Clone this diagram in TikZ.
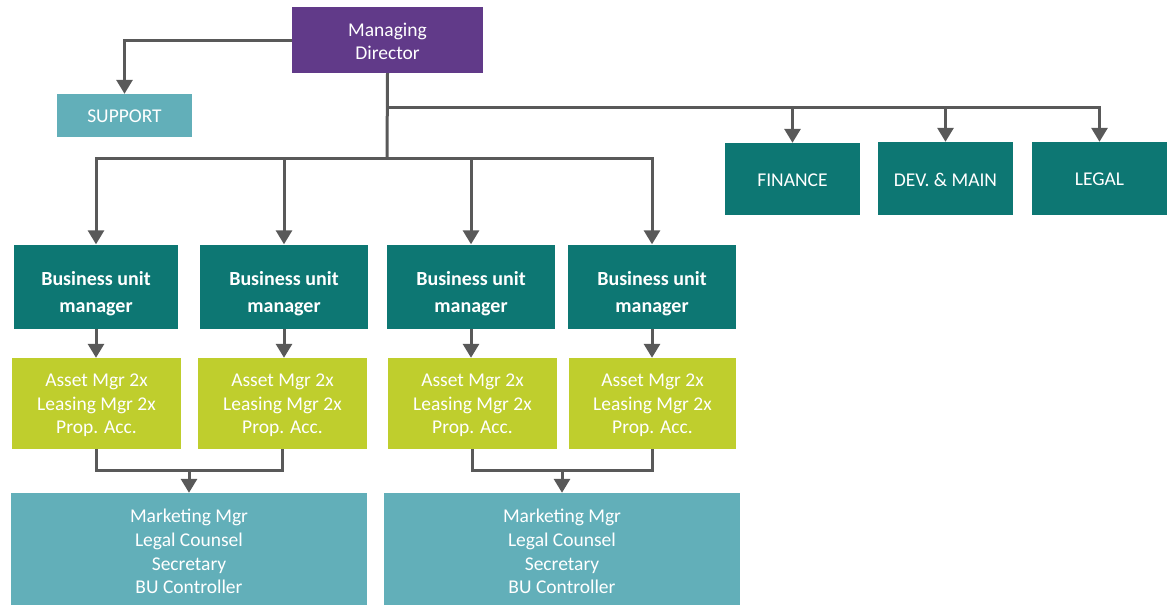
\documentclass[tikz,border=0pt]{standalone}
\usepackage{fontspec}
\setmainfont{Carlito}
\usetikzlibrary{arrows.meta,calc}
\definecolor{mdpurple}{HTML}{613A89}
\definecolor{darkteal}{HTML}{0D7773}
\definecolor{lightteal}{HTML}{62AFB9}
\definecolor{lime}{HTML}{BFCE2D}
\definecolor{linegray}{HTML}{595959}
\tikzset{
  box/.style={draw=none, inner sep=0pt},
  lbl/.style={align=center, text=white, inner sep=0pt,
    font=\fontsize{19.5}{23.7}\selectfont},
  blbl/.style={lbl, font=\fontsize{20}{27}\selectfont\bfseries},
  conn/.style={draw=linegray, line width=3pt},
  arr/.style={conn, -{Triangle[width=16pt,length=14pt]}},
}
\begin{document}
\begin{tikzpicture}[x=1pt,y=-1pt]
\useasboundingbox (0,0) rectangle (1171,605);
% top
\node[box, fill=mdpurple, minimum width=191pt, minimum height=66pt,
  label={[lbl, yshift=-1.5pt]center:{Managing\\Director}}] (md) at (387.5,40) {};
\node[box, fill=lightteal, minimum width=135pt, minimum height=43pt,
  label={[lbl, yshift=-1pt]center:SUPPORT}] (sup) at (124.5,115.5) {};
\node[box, fill=darkteal, minimum width=135pt, minimum height=72pt,
  label={[lbl, yshift=-1pt]center:FINANCE}] (fin) at (792.5,179) {};
\node[box, fill=darkteal, minimum width=135pt, minimum height=73pt,
  label={[lbl, yshift=-1pt]center:{DEV. \& MAIN}}] (dev) at (945.5,178.5) {};
\node[box, fill=darkteal, minimum width=135pt, minimum height=73pt,
  label={[lbl, yshift=-1pt]center:LEGAL}] (leg) at (1099.5,178.5) {};
% business units
\node[box, fill=darkteal, minimum width=164pt, minimum height=84pt,
  label={[blbl, yshift=-7pt]center:{Business unit\\manager}}] (bu1) at (96,286.5) {};
\node[box, fill=darkteal, minimum width=168pt, minimum height=84pt,
  label={[blbl, yshift=-7pt]center:{Business unit\\manager}}] (bu2) at (284,286.5) {};
\node[box, fill=darkteal, minimum width=168pt, minimum height=84pt,
  label={[blbl, yshift=-7pt]center:{Business unit\\manager}}] (bu3) at (471,286.5) {};
\node[box, fill=darkteal, minimum width=168pt, minimum height=84pt,
  label={[blbl, yshift=-7pt]center:{Business unit\\manager}}] (bu4) at (652,286.5) {};
% green
\node[box, fill=lime, minimum width=169pt, minimum height=91pt,
  label={[lbl, yshift=-2pt]center:{Asset Mgr 2x\\Leasing Mgr 2x\\Prop. Acc.}}] (g1) at (96.5,403.5) {};
\node[box, fill=lime, minimum width=169pt, minimum height=91pt,
  label={[lbl, yshift=-2pt]center:{Asset Mgr 2x\\Leasing Mgr 2x\\Prop. Acc.}}] (g2) at (282.5,403.5) {};
\node[box, fill=lime, minimum width=169pt, minimum height=91pt,
  label={[lbl, yshift=-2pt]center:{Asset Mgr 2x\\Leasing Mgr 2x\\Prop. Acc.}}] (g3) at (472.5,403.5) {};
\node[box, fill=lime, minimum width=167pt, minimum height=91pt,
  label={[lbl, yshift=-2pt]center:{Asset Mgr 2x\\Leasing Mgr 2x\\Prop. Acc.}}] (g4) at (652.5,403.5) {};
% bottom
\node[box, fill=lightteal, minimum width=356pt, minimum height=112pt,
  label={[lbl, yshift=-2.5pt]center:{Marketing Mgr\\Legal Counsel\\Secretary\\BU Controller}}] (bot1) at (189,549) {};
\node[box, fill=lightteal, minimum width=356pt, minimum height=112pt,
  label={[lbl, yshift=-2.5pt]center:{Marketing Mgr\\Legal Counsel\\Secretary\\BU Controller}}] (bot2) at (562,549) {};
% coordinates
\coordinate (busA) at (387,107);
\coordinate (busB) at (387,158);
\coordinate (mA) at (0,470);
% connectors
\draw[arr] (md.west) -| (sup.north);
\draw[conn] (md.south) -- (busB);
\draw[arr] (busA) -| (fin.north);
\draw[arr] (busA) -| (dev.north);
\draw[arr] (busA) -| (leg.north);
\draw[arr] (busB) -| (bu1.north);
\draw[arr] (busB) -| (bu2.north);
\draw[arr] (busB) -| (bu3.north);
\draw[arr] (busB) -| (bu4.north);
\draw[arr] (bu1.south) -- (bu1.south |- g1.north);
\draw[arr] (bu2.south) -- (bu2.south |- g2.north);
\draw[arr] (bu3.south) -- (bu3.south |- g3.north);
\draw[arr] (bu4.south) -- (bu4.south |- g4.north);
\draw[conn] (g1.south) |- (g2.south |- mA) -- (g2.south);
\draw[conn] (g3.south) |- (g4.south |- mA) -- (g4.south);
\draw[arr] (bot1.north |- mA) -- (bot1.north);
\draw[arr] (bot2.north |- mA) -- (bot2.north);
\end{tikzpicture}
\end{document}
